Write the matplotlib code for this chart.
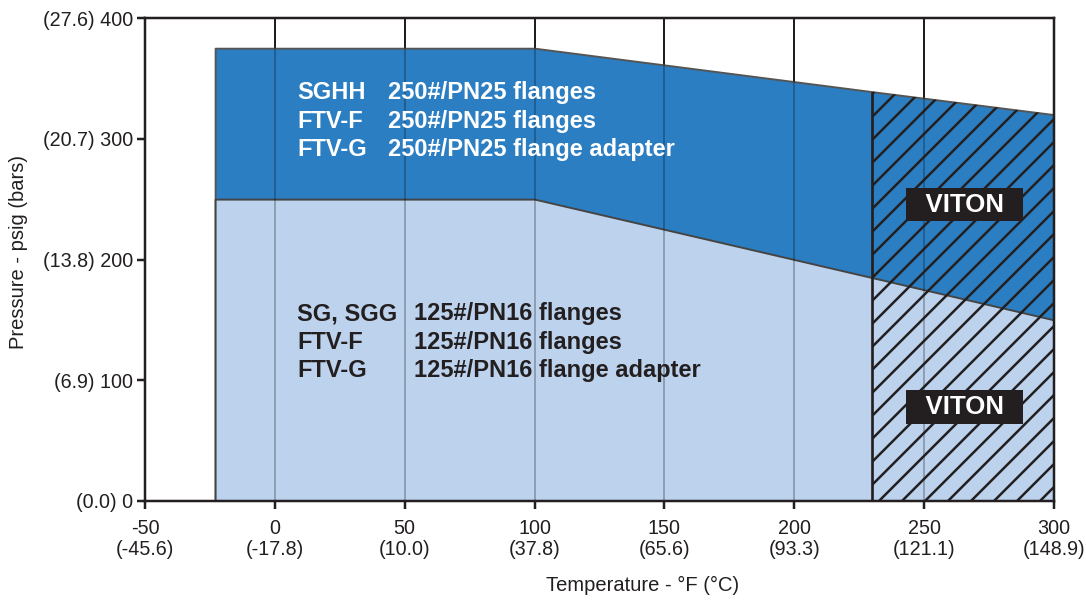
import numpy as np
import matplotlib
matplotlib.use('Agg')
import matplotlib.pyplot as plt

# temperature breakpoints (°F) and pressure limits (psig)
temps = [-23, 100, 230, 300]
upper_psig = [375, 375, 339, 320]   # SGHH / FTV 250# flanges
lower_psig = [250, 250, 185, 150]   # SG, SGG / FTV 125# flanges
viton_start = 230

x_ticks = [-50, 0, 50, 100, 150, 200, 250, 300]
x_tick_labels = ['-50\n(-45.6)', '0\n(-17.8)', '50\n(10.0)', '100\n(37.8)',
                 '150\n(65.6)', '200\n(93.3)', '250\n(121.1)', '300\n(148.9)']
y_ticks = [0, 100, 200, 300, 400]
y_tick_labels = ['(0.0) 0', '(6.9) 100', '(13.8) 200', '(20.7) 300', '(27.6) 400']

upper_text = [('SGHH', '250#/PN25 flanges'),
              ('FTV-F', '250#/PN25 flanges'),
              ('FTV-G', '250#/PN25 flange adapter')]
lower_text = [('SG, SGG', '125#/PN16 flanges'),
              ('FTV-F', '125#/PN16 flanges'),
              ('FTV-G', '125#/PN16 flange adapter')]

dark = '#231f20'
blue = '#2b7ec2'
light = '#bdd2ec'
narrow = ['Liberation Sans Narrow', 'Liberation Sans', 'DejaVu Sans']

plt.rcParams['hatch.color'] = dark
plt.rcParams['hatch.linewidth'] = 1.3

dpi = 138
fig = plt.figure(figsize=(1086 / dpi, 600 / dpi), dpi=dpi)
ax = fig.add_axes([145 / 1086, 1 - 501 / 600, 909 / 1086, 483 / 600])

# black grid lines behind the fills, faint ones over them
for t in x_ticks[1:-1]:
    ax.axvline(t, color=dark, lw=1.0, zorder=0.5)

ax.fill_between(temps, 0, upper_psig, facecolor=blue, edgecolor='#555555', lw=1.0, zorder=1)
ax.fill_between(temps, 0, lower_psig, facecolor=light, edgecolor='#444444', lw=1.0, zorder=1.1)

for t in x_ticks[1:-1]:
    ax.axvline(t, color='black', alpha=0.25, lw=1.0, zorder=1.5)

# viton hatched zone
tv = np.array(temps[2:])
uv = np.array(upper_psig[2:])
ax.fill_between(tv, 0, uv, facecolor='none', edgecolor=dark, hatch='//', lw=0, zorder=2)
ax.vlines(viton_start, 0, upper_psig[2], color=dark, lw=1.4, zorder=2.5)

# text blocks
for i, (a, b) in enumerate(upper_text):
    y = 338 - i * 23.6
    ax.text(8.5, y, a, color='white', fontsize=12.3, fontweight='bold',
            family='Liberation Sans', va='center', ha='left', zorder=3)
    ax.text(43.5, y, b, color='white', fontsize=12.3, fontweight='bold',
            family='Liberation Sans', va='center', ha='left', zorder=3)
for i, (a, b) in enumerate(lower_text):
    y = 155 - i * 23.6
    ax.text(8.5, y, a, color=dark, fontsize=12.3, fontweight='bold',
            family='Liberation Sans', va='center', ha='left', zorder=3)
    ax.text(53.5, y, b, color=dark, fontsize=12.3, fontweight='bold',
            family='Liberation Sans', va='center', ha='left', zorder=3)

for y in [245.5, 78]:
    ax.text(265.5, y, '  VITON  ', color='white', fontsize=13.5, fontweight='bold',
            family='Liberation Sans', va='center', ha='center', zorder=4,
            bbox=dict(boxstyle='square,pad=0.19', facecolor=dark, edgecolor='none'))

ax.set_xlim(-50, 300)
ax.set_ylim(0, 400)
ax.set_xticks(x_ticks)
ax.set_xticklabels(x_tick_labels, family=narrow, fontsize=10.3, color=dark)
ax.set_yticks(y_ticks)
ax.set_yticklabels(y_tick_labels, family=narrow, fontsize=10.3, color=dark)
for lab in ax.get_xticklabels():
    lab.set_linespacing(1.15)

for s in ax.spines.values():
    s.set_linewidth(1.3)
    s.set_color(dark)
    s.set_zorder(5)
ax.tick_params(direction='out', length=4, width=1.3, color=dark)
ax.tick_params(axis='x', pad=5.5)
ax.tick_params(axis='y', pad=2)

ax.set_xlabel('Temperature - °F (°C)', family=narrow, fontsize=10.5, color=dark)
ax.xaxis.set_label_coords(0.547, -0.155)
ax.set_ylabel('Pressure - psig (bars)', family=narrow, fontsize=10.5, color=dark)
ax.yaxis.set_label_coords(-0.129, 0.515)

fig.savefig('out.png', dpi=dpi)
